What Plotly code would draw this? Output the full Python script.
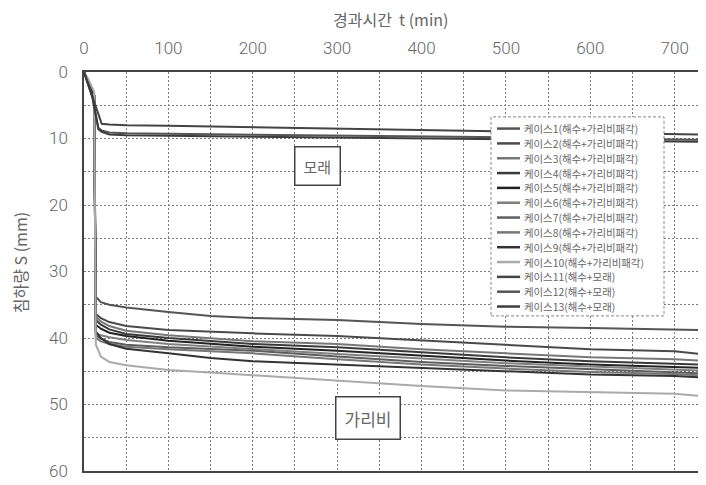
import plotly.graph_objects as go

# ---------------- data ----------------
t_gravel = [0, 5, 12, 14, 20, 30, 50, 100, 150, 200, 300, 400, 500, 600, 700, 730]
case1 = [0, 1.5, 3.5, 33.8, 34.6, 35.0, 35.4, 36.1, 36.7, 37.0, 37.3, 37.9, 38.3, 38.5, 38.7, 38.8]
case2 = [0, 1.5, 3.5, 36.4, 37.0, 37.6, 38.2, 38.8, 39.1, 39.3, 39.7, 40.4, 41.1, 41.7, 42.0, 42.4]
case3 = [0, 1.5, 3.5, 36.8, 37.5, 38.2, 38.9, 39.6, 40.1, 40.5, 40.9, 41.7, 42.3, 42.9, 43.2, 43.4]
case4 = [0, 1.5, 3.5, 37.3, 38.0, 38.7, 39.4, 40.0, 40.5, 40.9, 41.4, 42.2, 42.9, 43.5, 43.8, 44.0]
case5 = [0, 1.5, 3.5, 38.0, 38.6, 39.2, 39.7, 40.4, 40.9, 41.3, 41.9, 42.7, 43.4, 44.0, 44.3, 44.5]
case6 = [0, 1.5, 3.5, 39.3, 39.6, 39.9, 40.3, 40.9, 41.3, 41.7, 42.4, 43.1, 43.8, 44.3, 44.7, 44.9]
case7 = [0, 1.5, 3.5, 39.6, 40.1, 40.6, 41.0, 41.4, 41.7, 41.9, 42.8, 43.6, 44.2, 44.7, 45.1, 45.3]
case8 = [0, 1.5, 3.5, 40.0, 40.5, 40.9, 41.3, 41.7, 42.0, 42.3, 43.2, 44.0, 44.6, 45.1, 45.4, 45.6]
case9 = [0, 1.5, 3.5, 39.0, 40.0, 40.9, 41.6, 42.3, 43.0, 43.5, 44.0, 44.6, 45.1, 45.5, 45.7, 45.9]
case10 = [0, 1.0, 3.0, 41.0, 42.8, 43.6, 44.1, 44.8, 45.2, 45.6, 46.5, 47.2, 47.9, 48.2, 48.4, 48.7]

t_sand = [0, 5, 10, 17, 21, 30, 50, 100, 200, 300, 400, 500, 600, 700, 730]
case11 = [0, 1.8, 3.8, 6.4, 7.8, 7.9, 8.0, 8.1, 8.3, 8.5, 8.7, 8.9, 9.1, 9.3, 9.4]
case12 = [0, 1.8, 3.8, 8.4, 8.8, 9.1, 9.2, 9.3, 9.4, 9.5, 9.7, 9.8, 10.0, 10.1, 10.2]
case13 = [0, 1.8, 3.8, 8.6, 9.0, 9.4, 9.5, 9.6, 9.7, 9.8, 9.9, 10.1, 10.3, 10.4, 10.5]

case_names = [
    "케이스1(해수+가리비패각)", "케이스2(해수+가리비패각)", "케이스3(해수+가리비패각)",
    "케이스4(해수+가리비패각)", "케이스5(해수+가리비패각)", "케이스6(해수+가리비패각)",
    "케이스7(해수+가리비패각)", "케이스8(해수+가리비패각)", "케이스9(해수+가리비패각)",
    "케이스10(해수+가리비패각)", "케이스11(해수+모래)", "케이스12(해수+모래)",
    "케이스13(해수+모래)",
]
case_colors = ["#555555", "#4a4a4a", "#777777", "#3a3a3a", "#222222", "#808080",
               "#5e5e5e", "#777777", "#333333", "#aaaaaa", "#444444", "#555555", "#3c3c3c"]

x_tick_vals = [0, 100, 200, 300, 400, 500, 600, 700]
y_tick_vals = [0, 10, 20, 30, 40, 50, 60]
x_title = "경과시간  t (min)"
y_title = "침하량 S (mm)"
label_sand = "모래"
label_gravel = "가리비"

series_y = [case1, case2, case3, case4, case5, case6, case7, case8, case9, case10,
            case11, case12, case13]
series_x = [t_gravel] * 10 + [t_sand] * 3

# ---------------- figure ----------------
KR = "Noto Sans CJK KR"
NUM = "Roboto, Noto Sans CJK KR"
GRID = "#7a7a7a"
TXT = "#666666"

fig = go.Figure()
for name, xs, ys, col in zip(case_names, series_x, series_y, case_colors):
    fig.add_trace(go.Scatter(x=xs, y=ys, mode="lines", name=name, showlegend=False,
                             line=dict(color=col, width=2)))

# The page body has an 8px margin, so the figure is drawn 8px right/down.
W, H = 706, 485
OFF = 8
PL, PT, PR, PB = 84, 72, 700, 481          # plot area in page pixels
pw, ph = PR - PL, PB - PT
L, T = PL - OFF, PT - OFF
R, B = W - L - pw, H - T - ph

def px(xp):
    return (xp - PL) / pw

def py(yp):
    return (PB - yp) / ph

shapes = []
annotations = []

# custom legend (dashed box)
LEG_TOP, LEG_STEP = 130, 15.2
shapes.append(dict(type="rect", xref="paper", yref="paper",
                   x0=px(491), x1=px(664), y0=py(322), y1=py(118),
                   fillcolor="white", line=dict(color="#888888", width=1, dash="3px,2px"),
                   layer="above"))
for i, (name, col) in enumerate(zip(case_names, case_colors)):
    yy = py(LEG_TOP + LEG_STEP * i)
    shapes.append(dict(type="line", xref="paper", yref="paper",
                       x0=px(497), x1=px(520), y0=yy, y1=yy,
                       line=dict(color=col, width=2.5), layer="above"))
    annotations.append(dict(xref="paper", yref="paper", x=px(523), y=yy,
                            xanchor="left", yanchor="middle", showarrow=False, borderpad=0,
                            text=name, font=dict(family=KR, size=10.4, color=TXT)))

# region labels
annotations.append(dict(x=277, y=14.2, xref="x", yref="y", text=label_sand, showarrow=False,
                        font=dict(family=KR, size=15, color=TXT),
                        bordercolor="#444444", borderwidth=1.5, borderpad=8, bgcolor="white"))
annotations.append(dict(x=337, y=52, xref="x", yref="y", text=label_gravel, showarrow=False,
                        font=dict(family=KR, size=17, color=TXT),
                        bordercolor="#444444", borderwidth=1.5, borderpad=8, bgcolor="white"))

# axis titles
annotations.append(dict(xref="paper", yref="paper", x=px(390), y=py(18),
                        text=x_title, showarrow=False, xanchor="center", yanchor="middle",
                        font=dict(family=KR, size=16, color=TXT)))
annotations.append(dict(xref="paper", yref="paper", x=px(20), y=py(268),
                        text=y_title, showarrow=False, xanchor="center", yanchor="middle",
                        textangle=-90, font=dict(family=KR, size=16, color=TXT)))

axis_common = dict(
    showgrid=True, gridcolor=GRID, gridwidth=1, griddash="2px,2px",
    showline=True, mirror=True, linecolor="#444444", linewidth=1.5,
    zeroline=False, ticks="",
    tickfont=dict(family=NUM, size=17, color=TXT, weight=300),
)

fig.update_layout(
    width=W, height=H,
    margin=dict(l=L, r=R, t=T, b=B),
    paper_bgcolor="white", plot_bgcolor="white",
    showlegend=False,
    shapes=shapes, annotations=annotations,
    xaxis=dict(side="top", range=[0, 730], tickvals=x_tick_vals, ticklabelstandoff=9,
               minor=dict(dtick=50, tick0=0, showgrid=True, gridcolor=GRID,
                          gridwidth=1, griddash="2px,2px"),
               **axis_common),
    yaxis=dict(range=[60, 0], tickvals=y_tick_vals, ticklabelstandoff=11,
               minor=dict(dtick=5, tick0=0, showgrid=True, gridcolor=GRID,
                          gridwidth=1, griddash="2px,2px"),
               **axis_common),
)

fig.write_html("out.html")
